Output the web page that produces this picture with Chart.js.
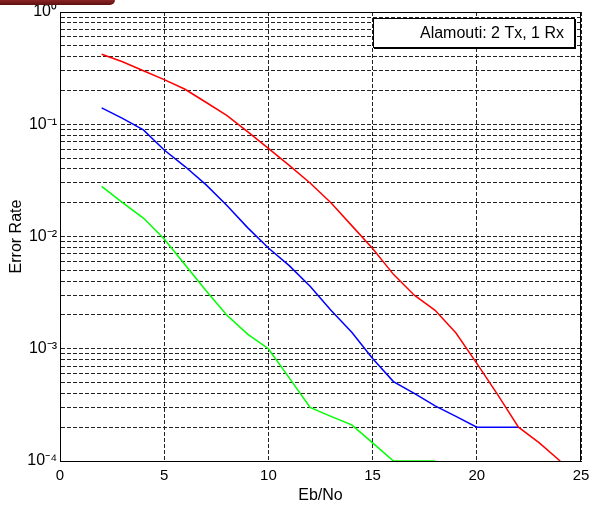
<!DOCTYPE html>
<html>
<head>
<meta charset="utf-8">
<script src="https://cdn.jsdelivr.net/npm/chart.js@4"></script>
<style>
  html, body { margin: 0; padding: 0; background: #fff; }
  #wrap { position: relative; width: 590px; height: 506px; }
  #banner { position: absolute; left: 0; top: 0; width: 115px; height: 5px;
            background: linear-gradient(#8a2424, #5c1010); border-bottom-right-radius: 9px; }
</style>
</head>
<body>
<div id="wrap">
  <canvas id="c" width="590" height="506"></canvas>
  <div id="banner"></div>
</div>
<script>
// Eb/No (dB) et taux d'erreur
const ebno = [2, 3, 4, 5, 6, 7, 8, 9, 10, 11, 12, 13, 14, 15, 16, 17, 18, 19, 20, 21, 22, 23, 24];
const redRate = [0.42, 0.36, 0.30, 0.25, 0.205, 0.157, 0.12, 0.086, 0.061, 0.043, 0.030, 0.020, 0.0125, 0.0078,
                 0.0046, 0.0030, 0.0022, 0.00138, 0.00074, 0.00039, 0.0002, 0.000145, 0.0001];
const blueRate = [0.14, 0.113, 0.089, 0.059, 0.042, 0.029, 0.019, 0.012, 0.0079, 0.0055, 0.0036, 0.0022, 0.0014,
                  0.00082, 0.00051, 0.00040, 0.00031, 0.00025, 0.0002, 0.0002, 0.0002, null, null];
const greenRate = [0.028, 0.020, 0.0146, 0.0095, 0.0056, 0.0033, 0.0020, 0.00135, 0.0010, 0.00055, 0.00030,
                   0.00025, 0.00021, 0.000145, 0.0001, 0.0001, 0.0001, null, null, null, null, null, null];

const xTicks = [0, 5, 10, 15, 20, 25];
const yMajor = [1e-4, 1e-3, 1e-2, 1e-1, 1];
const yTickLabels = ['10⁻⁴', '10⁻³', '10⁻²', '10⁻¹', '10⁰'];
const legendText = 'Alamouti: 2 Tx, 1 Rx';

const FONT = "'Liberation Sans', Arial, sans-serif";

// grille log : 1..9 x 10^k
function logGrid() {
  const out = [];
  for (let e = -4; e < 0; e++) {
    for (let m = 1; m <= 9; m++) out.push({ value: m * Math.pow(10, e) });
  }
  out.push({ value: 1 });
  return out;
}

function yLabel(v) {
  const i = yMajor.findIndex(m => Math.abs(v - m) / m < 1e-6);
  return i >= 0 ? yTickLabels[i] : '';
}

function toPoints(arr) {
  return ebno.map((x, i) => ({ x: x, y: arr[i] })).filter(p => p.y !== null);
}

// cadre haut/droite + légende
const framePlugin = {
  id: 'frame',
  afterDraw(chart) {
    const { ctx, chartArea: a } = chart;
    ctx.save();
    ctx.strokeStyle = '#000';
    ctx.lineWidth = 1;
    ctx.beginPath();
    ctx.moveTo(a.left, a.top + 0.5);
    ctx.lineTo(a.right - 0.5, a.top + 0.5);
    ctx.lineTo(a.right - 0.5, a.bottom);
    ctx.stroke();

    // boîte de légende
    const bx = 373, by = 18, bw = 201, bh = 29;
    ctx.fillStyle = '#fff';
    ctx.fillRect(bx, by, bw, bh);
    ctx.lineWidth = 1;
    ctx.strokeRect(bx + 0.5, by + 0.5, bw, bh);
    ctx.lineWidth = 2;
    ctx.beginPath();
    ctx.moveTo(bx + 1, by + bh + 1);
    ctx.lineTo(bx + bw + 1, by + bh + 1);
    ctx.lineTo(bx + bw + 1, by + 1);
    ctx.stroke();
    ctx.fillStyle = '#000';
    ctx.font = '16px ' + FONT;
    ctx.textAlign = 'right';
    ctx.textBaseline = 'middle';
    ctx.fillText(legendText, bx + bw - 10, by + bh / 2 + 1);
    ctx.restore();
  }
};

new Chart(document.getElementById('c'), {
  type: 'line',
  data: {
    datasets: [
      { label: 'red', data: toPoints(redRate), borderColor: '#ff0000', borderWidth: 1.5 },
      { label: 'blue', data: toPoints(blueRate), borderColor: '#0000ff', borderWidth: 1.5 },
      { label: 'green', data: toPoints(greenRate), borderColor: '#00ff00', borderWidth: 1.5 }
    ]
  },
  options: {
    responsive: false,
    animation: false,
    layout: { padding: { top: 12, right: 9, left: 0, bottom: 0 } },
    elements: { point: { radius: 0 }, line: { tension: 0 } },
    plugins: { legend: { display: false }, tooltip: { enabled: false } },
    scales: {
      x: {
        type: 'linear', min: 0, max: 25,
        afterBuildTicks: s => { s.ticks = xTicks.map(v => ({ value: v })); },
        afterFit: s => { s.height = 45; s.paddingLeft = 0; s.paddingRight = 0; },
        ticks: { autoSkip: false, maxRotation: 0, padding: 6, color: '#000', font: { family: FONT, size: 15 } },
        grid: { color: '#222', drawTicks: false },
        border: { display: true, color: '#000', width: 1, dash: [4, 2] },
        title: { display: true, text: 'Eb/No', color: '#000', font: { family: FONT, size: 16 }, padding: { top: 0, bottom: 1 } }
      },
      y: {
        type: 'logarithmic', min: 1e-4, max: 1,
        afterBuildTicks: s => { s.ticks = logGrid(); },
        afterFit: s => { s.width = 60; s.paddingTop = 0; s.paddingBottom = 0; },
        ticks: { autoSkip: false, padding: 3, color: '#000', font: { family: FONT, size: 16 }, callback: v => yLabel(v) },
        grid: { color: '#222', drawTicks: false },
        border: { display: true, color: '#000', width: 1, dash: [4, 2] },
        title: { display: true, text: 'Error Rate', color: '#000', font: { family: FONT, size: 16 }, padding: { top: 7, bottom: 0 } }
      }
    }
  },
  plugins: [framePlugin]
});
</script>
</body>
</html>
